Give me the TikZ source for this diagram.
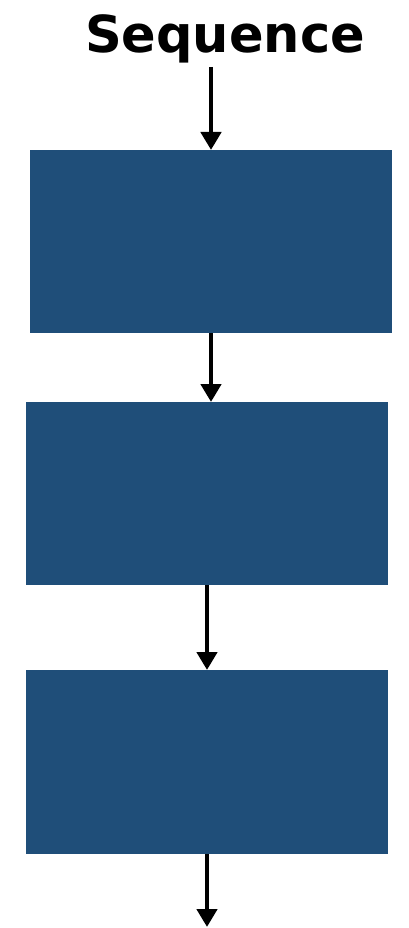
\documentclass[tikz,border=0pt]{standalone}
\usepackage{fontspec}
\setsansfont{DejaVu Sans}
\usepackage{xcolor}
\definecolor{blockblue}{HTML}{1F4E79}
\usetikzlibrary{positioning,arrows.meta}
\begin{document}
\begin{tikzpicture}[x=1pt, y=-1pt,
    title/.style={font=\sffamily\bfseries\fontsize{51}{54}\selectfont, inner sep=0pt},
    blk/.style={fill=blockblue, minimum width=362pt, minimum height=183pt,
                inner sep=0pt, outer sep=0pt},
    flow/.style={-{Triangle[width=20pt, length=18pt]}, line width=4.5pt, color=black}]
  \useasboundingbox (0,0) rectangle (409,928);
  \node[title, anchor=base] (seq) at (225,53) {Sequence};
  \node[blk] (b1) at (211,241.5) {};
  \node[blk] (b2) at (207,493.5) {};
  \node[blk, minimum height=184pt] (b3) at (207,762) {};
  \coordinate (out) at (b3.south |- 0,927);
  \draw[flow] ([yshift=-3pt]b1.north |- seq.south) -- (b1.north);
  \draw[flow] (b1.south) -- (b1.south |- b2.north);
  \draw[flow] (b2.south) -- (b3.north);
  \draw[flow] (b3.south) -- (out);
\end{tikzpicture}
\end{document}
